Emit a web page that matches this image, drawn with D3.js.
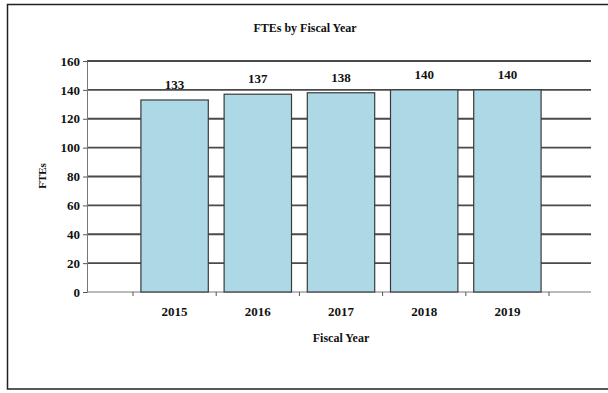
<!DOCTYPE html>
<html>
<head>
<meta charset="utf-8">
<script src="https://cdn.jsdelivr.net/npm/d3@7"></script>
<style>
  body { margin: 0; background: #fff; }
  text { font-family: "Liberation Serif", "DejaVu Serif", serif; font-weight: bold; fill: #111; }
</style>
</head>
<body>
<svg id="chart" width="608" height="393"></svg>
<script>
const years = ['2015', '2016', '2017', '2018', '2019'];
const ftes = [133, 137, 138, 140, 140];
const yTicks = [0, 20, 40, 60, 80, 100, 120, 140, 160];

const svg = d3.select('#chart');

// outer frame (runs off the right edge in the original)
svg.append('rect')
  .attr('x', 7.5).attr('y', 4.5)
  .attr('width', 640).attr('height', 384.5)
  .attr('fill', 'none').attr('stroke', '#222').attr('stroke-width', 1.5);

const plot = { left: 87, right: 591, top: 61, bottom: 292 };

const y = d3.scaleLinear().domain([0, 160]).range([plot.bottom, plot.top]);
const x = d3.scaleBand().domain(years).range([133, 549]).paddingInner(0.19).paddingOuter(0.095);
const step = x.step();

// gridlines
svg.append('g').selectAll('line').data(yTicks).join('line')
  .attr('x1', plot.left).attr('x2', plot.right)
  .attr('y1', d => y(d)).attr('y2', d => y(d))
  .attr('stroke', d => d === 0 ? '#777' : '#4a4a4a')
  .attr('stroke-width', d => d === 0 ? 1 : 1.8);

// y axis
const yAxis = svg.append('g').attr('transform', `translate(${plot.left},0)`)
  .call(d3.axisLeft(y).tickValues(yTicks).tickSize(4).tickPadding(3));
yAxis.attr('font-family', null).attr('font-size', null);
yAxis.select('.domain').attr('stroke', '#777');
yAxis.selectAll('.tick line').attr('stroke', '#555');
yAxis.selectAll('text').style('font-size', '13px').attr('fill', '#111');

// x ticks at category boundaries
const bounds = years.map(d => x(d) - x.paddingOuter() * step).concat([549]);
svg.append('g').selectAll('line').data(bounds).join('line')
  .attr('x1', d => d).attr('x2', d => d)
  .attr('y1', plot.bottom).attr('y2', plot.bottom + 4)
  .attr('stroke', '#555');

// bars
svg.append('g').selectAll('rect').data(years).join('rect')
  .attr('x', d => x(d))
  .attr('y', (d, i) => y(ftes[i]))
  .attr('width', x.bandwidth())
  .attr('height', (d, i) => plot.bottom - y(ftes[i]))
  .attr('fill', '#add8e6')
  .attr('stroke', '#3a3a3a')
  .attr('stroke-width', 1.2);

// value labels
svg.append('g').selectAll('text').data(years).join('text')
  .attr('x', d => x(d) + x.bandwidth() / 2)
  .attr('y', (d, i) => y(ftes[i]) - 11)
  .attr('text-anchor', 'middle')
  .style('font-size', '13px')
  .text((d, i) => ftes[i]);

// category labels
svg.append('g').selectAll('text').data(years).join('text')
  .attr('x', d => x(d) + x.bandwidth() / 2)
  .attr('y', 316)
  .attr('text-anchor', 'middle')
  .style('font-size', '13px')
  .text(d => d);

svg.append('text')
  .attr('x', 341).attr('y', 342)
  .attr('text-anchor', 'middle')
  .style('font-size', '12px')
  .text('Fiscal Year');

svg.append('text')
  .attr('transform', 'translate(46,176) rotate(-90)')
  .attr('text-anchor', 'middle')
  .style('font-size', '11px')
  .text('FTEs');

svg.append('text')
  .attr('x', 305).attr('y', 32)
  .attr('text-anchor', 'middle')
  .style('font-size', '12px')
  .text('FTEs by Fiscal Year');
</script>
</body>
</html>
